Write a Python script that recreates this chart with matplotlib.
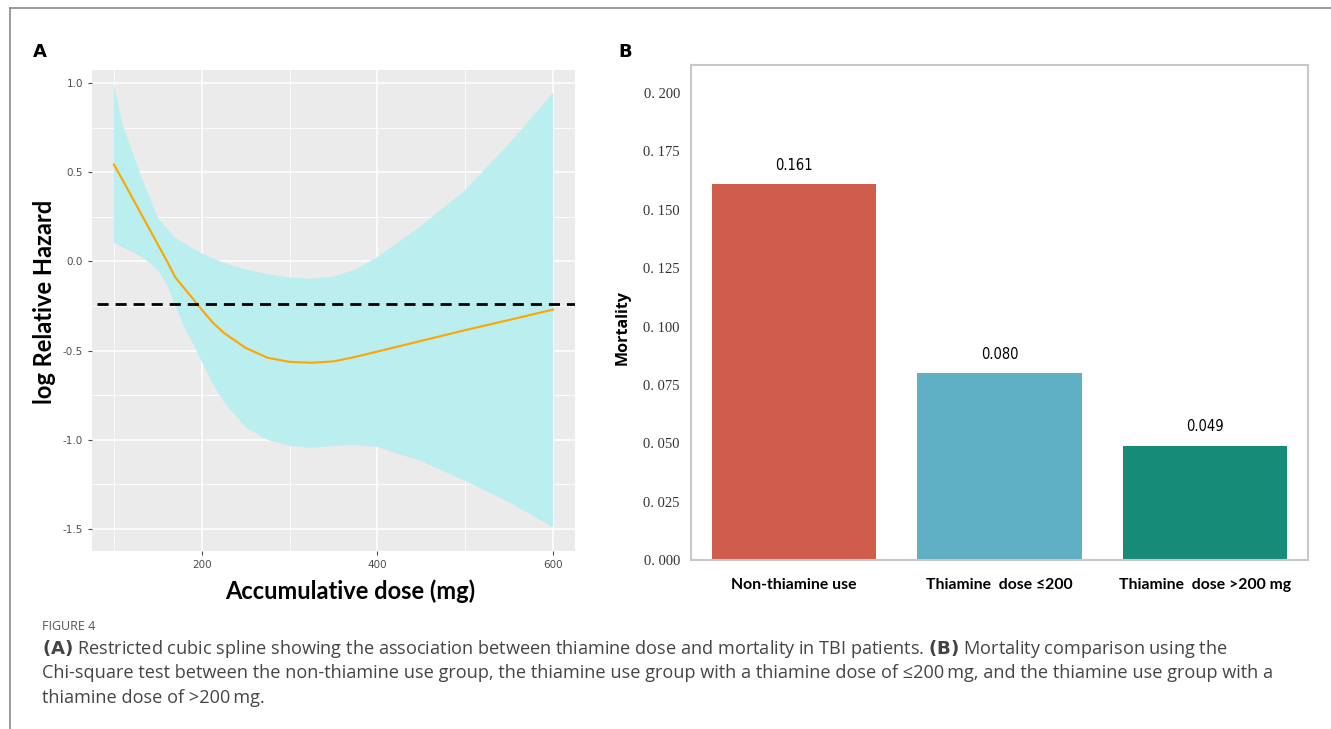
import numpy as np
import matplotlib.pyplot as plt
from matplotlib.lines import Line2D

# Panel A: restricted cubic spline
dose = [100, 110, 120, 130, 140, 150, 160, 170, 180, 190, 200, 212, 225, 250, 275, 300, 325, 350, 375,
        400, 450, 500, 550, 600]
log_hr = [0.543, 0.455, 0.365, 0.275, 0.185, 0.095, 0.005, -0.09, -0.15, -0.21, -0.27, -0.34, -0.40,
          -0.485, -0.54, -0.563, -0.568, -0.56, -0.535, -0.505, -0.445, -0.385, -0.328, -0.27]
ci_upper = [0.99, 0.765, 0.63, 0.49, 0.365, 0.246, 0.187, 0.13, 0.103, 0.071, 0.045, 0.02, -0.008,
            -0.045, -0.072, -0.09, -0.097, -0.085, -0.045, 0.025, 0.20, 0.40, 0.66, 0.945]
ci_lower = [0.105, 0.08, 0.055, 0.03, -0.005, -0.05, -0.126, -0.25, -0.364, -0.46, -0.56, -0.68, -0.785,
            -0.93, -1.0, -1.034, -1.045, -1.035, -1.03, -1.04, -1.12, -1.23, -1.35, -1.49]
ref_line = -0.24

# Panel B: mortality by group
groups = ['Non-thiamine use', 'Thiamine  dose \u2264200', 'Thiamine  dose >200 mg']
mortality = [0.161, 0.080, 0.049]
bar_colors = ['#D05D4C', '#5FAFC5', '#168C78']

fig = plt.figure(figsize=(13.31, 7.29), dpi=100)
W, H = 1331, 729

def box(x0, y0, x1, y1):
    return [x0 / W, 1 - y1 / H, (x1 - x0) / W, (y1 - y0) / H]

cond = dict(family='DejaVu Sans', fontstretch='condensed')

# frame lines
fig.add_artist(Line2D([10 / W, 1], [1 - 8 / H, 1 - 8 / H], color='#8a8a8a', lw=1.2))
fig.add_artist(Line2D([10 / W, 10 / W], [0, 1 - 8 / H], color='#8a8a8a', lw=1.2))

# ---- panel A
ax = fig.add_axes(box(92, 70, 575, 551))
ax.set_facecolor('#EBEBEB')
ax.fill(dose + dose[::-1], ci_upper + ci_lower[::-1], color='#BBEEEE', lw=0, zorder=2)
ax.plot(dose, log_hr, color='#FFA500', lw=1.5, zorder=3)
ax.axhline(ref_line, xmin=0.01, color='black', lw=2, ls=(0, (4, 2.5)), zorder=4)
ax.set_xlim(75, 625)
ax.set_ylim(-1.623, 1.073)
ax.set_xticks([200, 400, 600])
ax.set_xticks([100, 300, 500], minor=True)
ax.set_yticks([-1.5, -1.0, -0.5, 0.0, 0.5, 1.0])
ax.set_yticks([-1.25, -0.75, -0.25, 0.25, 0.75], minor=True)
ax.set_yticklabels(['-1.5', '-1.0', '-0.5', '0.0', '0.5', '1.0'])
ax.grid(which='major', color='white', lw=1.1, zorder=1)
ax.grid(which='minor', color='white', lw=0.6, zorder=1)
ax.set_axisbelow(True)
for s in ax.spines.values():
    s.set_visible(False)
ax.tick_params(which='major', colors='#4D4D4D', labelsize=7.5, length=3, width=0.8)
ax.tick_params(which='minor', length=0)
ax.set_xlabel('Accumulative dose (mg)', fontsize=17, fontweight='bold', family='Lato')
ax.set_ylabel('log Relative Hazard', fontsize=17, fontweight='bold', family='Lato')
ax.xaxis.set_label_coords(0.534, -0.06)
ax.yaxis.set_label_coords(-0.075, 0.518)
fig.text(33 / W, 1 - 52 / H, 'A', fontsize=13, fontweight='bold', va='center')

# ---- panel B
bx = fig.add_axes(box(691, 65, 1308, 560))
pos = np.arange(len(groups))
bx.bar(pos, mortality, width=0.8, color=bar_colors, zorder=2)
for p, v in zip(pos, mortality):
    bx.text(p, v + 0.0048, f'{v:.3f}', ha='center', va='bottom', fontsize=10.5, **cond)
bx.set_xlim(-0.5, 2.5)
bx.set_ylim(0, 0.212)
yt = [0, 0.025, 0.05, 0.075, 0.1, 0.125, 0.15, 0.175, 0.2]
bx.set_yticks(yt)
bx.set_yticklabels([f'{v:.3f}'.replace('.', '. ') for v in yt], family='Liberation Serif', fontsize=10.5)
bx.set_xticks(pos)
bx.set_xticklabels(groups, fontsize=11.3, fontweight='bold', family='Lato')
bx.tick_params(axis='y', length=0, pad=8, colors='#333333')
bx.tick_params(axis='x', length=0, pad=13)
for s in bx.spines.values():
    s.set_color('#C8C8C8')
    s.set_linewidth(1.5)
bx.set_ylabel('Mortality', fontsize=11.5, fontweight='bold', family='Open Sans')
bx.yaxis.set_label_coords(-0.098, 0.47)
fig.text(618 / W, 1 - 52 / H, 'B', fontsize=13, fontweight='bold', va='center')

# ---- caption
cap_font = 'Open Sans'
fig.text(42 / W, 1 - 627 / H, 'FIGURE 4', fontsize=9, color='#555555', va='center', family=cap_font)
lines = [
    r'$\bf{(A)}$ Restricted cubic spline showing the association between thiamine dose and mortality in TBI patients. '
    r'$\bf{(B)}$ Mortality comparison using the',
    'Chi-square test between the non-thiamine use group, the thiamine use group with a thiamine dose of \u2264200\u2009mg, '
    'and the thiamine use group with a',
    'thiamine dose of >200\u2009mg.',
]
for i, ln in enumerate(lines):
    fig.text(42 / W, 1 - (649 + 24.5 * i) / H, ln, fontsize=13.1, color='#444444', va='center', family=cap_font)

fig.savefig('out.png', dpi=100)
